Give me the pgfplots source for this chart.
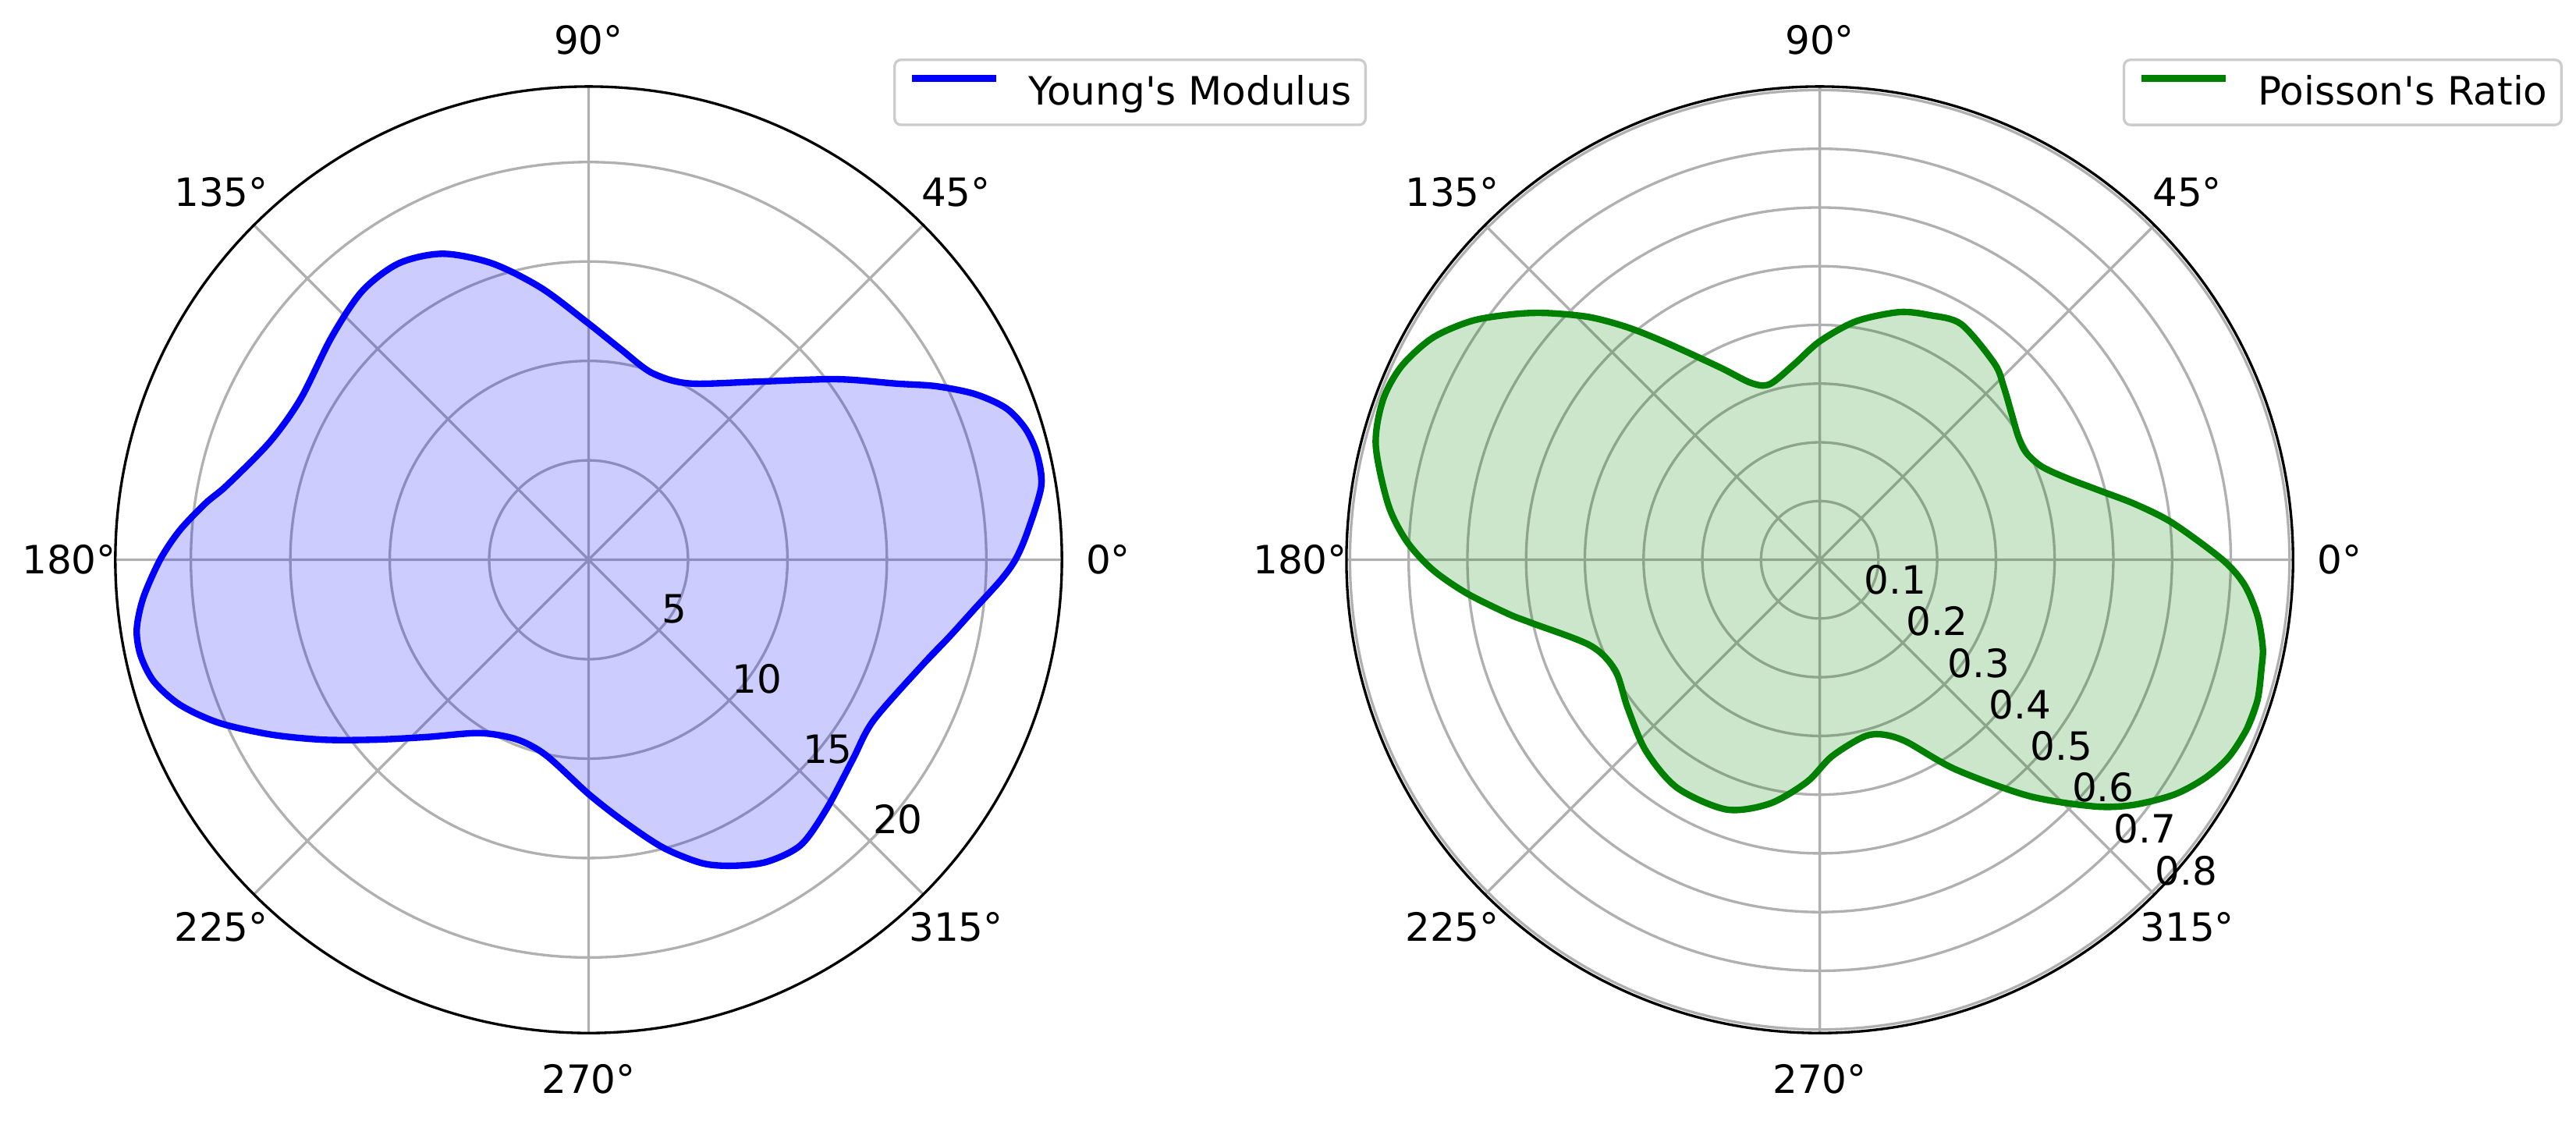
\documentclass[border=0pt]{standalone}
\usepackage{fontspec}
\setmainfont{DejaVu Sans}
\usepackage{pgfplots}
\pgfplotsset{compat=1.18}
\usepgfplotslibrary{polar}

\definecolor{gridgray}{RGB}{176,176,176}
\definecolor{legframe}{RGB}{204,204,204}
\definecolor{mplgreen}{RGB}{0,128,0}
\newcommand{\lbl}{\fontsize{12}{14.4}\selectfont}

\pgfplotsset{
  mppolar/.style={
    scale only axis, width=291.2pt, height=291.2pt,
    xmin=0, xmax=360,
    xtick={0,45,...,315}, xticklabels={},
    yticklabels={},
    xmajorgrids, ymajorgrids,
    major grid style={gridgray, line width=0.8pt},
    tick style={draw=none},
    axis line style={black, line width=0.8pt},
    y axis line style={draw=none},
    clip=false,
    legend image code/.code={\draw[##1] (0pt,4.3pt) -- (26pt,4.3pt); \path (34.9pt,4.3pt);},
    legend style={draw=legframe, line width=0.8pt, rounded corners=2pt, fill=white,
      anchor=north west, inner xsep=4.3pt, inner ysep=4.7pt,
      nodes={inner sep=0pt}, font=\lbl},
  },
}

\begin{document}
\begin{tikzpicture}
\path[use as bounding box] (0pt,0pt) rectangle (792.48pt,344.88pt);

% Young's modulus
\begin{polaraxis}[mppolar, at={(181.08pt,172.66pt)}, anchor=origin,
  ymin=0, ymax=23.8, ytick={5,10,15,20},
  legend style={at={(axis cs:58.71,29.50)}}]
\addplot[blue, line width=2pt, line join=round, fill=blue, fill opacity=0.2, smooth]
  coordinates {
  (-16.95,17.68) (-12.1,18.54) (-7.2,19.58) (-2.8,20.76)
  (0,21.46) (3.49,22.09) (9.22,23.06) (13.13,23.17) (16.6,22.95) (19.94,22.34)
  (23.22,21.14) (26.55,19.53) (29.73,17.86) (36.0,15.45) (46.6,12.33)
  (60.3,10.21) (71.2,9.92) (81.2,10.7) (90,11.88) (99.9,13.88) (108.1,15.69)
  (115.5,17.05) (122.6,17.7) (130.1,17.67) (139.1,17.1) (150.8,16.59)
  (159.7,17.09) (168.4,18.58) (171.6,19.47) (175.9,20.62) (180,21.55)
  (184.9,22.48) (188.74,22.99) (192.0,23.04) (195.6,22.71) (199.5,21.82)
  (203.78,20.33) (208.78,18.25) (214.07,16.15) (220.05,14.06) (227.57,12.08)
  (237.8,10.3) (248.1,9.73) (257.7,10.06) (270,11.78) (277.7,13.29)
  (284.5,14.95) (290.5,16.29) (295.3,17.02) (300.57,17.64) (306.66,17.88)
  (313.76,17.32) (322.96,16.65) (330.62,16.45) (343.05,17.68)
  (347.9,18.54) (352.8,19.58) (357.2,20.76)
  (360,21.46) (363.49,22.09) (369.22,23.06) (373.13,23.17)
  };
\addlegendentry{Young\textquotesingle s Modulus}
\pgfplotsinvokeforeach{0,45,...,315}{\node[font=\lbl] at (axis cs:#1,26.13) {#1°};}
\pgfplotsinvokeforeach{5,10,15,20}{\node[font=\lbl, anchor=base west, inner sep=0pt,
  xshift=0.8pt, yshift=2.2pt] at (axis cs:315,#1) {#1};}
\end{polaraxis}

% Poisson's ratio
\begin{polaraxis}[mppolar, at={(559.82pt,172.66pt)}, anchor=origin,
  ymin=0, ymax=0.806, ytick={0.1,0.2,0.3,0.4,0.5,0.6,0.7,0.8},
  legend style={at={(axis cs:58.86,0.9974)}}]
\addplot[mplgreen, line width=2pt, line join=round, fill=mplgreen, fill opacity=0.2, smooth]
  coordinates {
  (-21.5,0.7825) (-17.7,0.7828) (-13.8,0.7747) (-11.2,0.7692) (-7.35,0.7519)
  (-3.4,0.7248)
  (0,0.686) (6.04,0.603) (9.97,0.546) (13.66,0.494) (18.2,0.444) (22.8,0.41)
  (27.5,0.396) (31.8,0.398) (37.4,0.411) (43.2,0.43) (48.3,0.4475) (59,0.468)
  (65.7,0.457) (72.2,0.443) (81.3,0.411) (90,0.372) (97.4,0.336) (105.9,0.311)
  (111.2,0.323) (117.4,0.369) (125.21,0.452) (129.57,0.5135) (133.59,0.571)
  (138.14,0.63) (141.56,0.672) (145.55,0.719) (150.18,0.760) (155.2,0.785)
  (159.93,0.792) (165.5,0.781) (172.69,0.741) (177.37,0.7047) (181.43,0.66)
  (185.35,0.605) (189.81,0.539) (192.33,0.503) (200.5,0.417) (208.4,0.396)
  (217.6,0.413) (227.7,0.440) (238,0.458) (249.5,0.454) (258.4,0.424)
  (266.7,0.379) (273.4,0.336) (283.5,0.311) (289.3,0.315) (295.3,0.342)
  (302.9,0.425) (311.5,0.537) (318,0.6275) (321.9,0.677) (326.5,0.7243)
  (330.55,0.7546) (334.3,0.7735) (338.5,0.7825) (342.3,0.7828) (346.2,0.7747)
  (348.8,0.7692) (352.65,0.7519) (356.6,0.7248)
  (360,0.686) (366.04,0.603) (369.97,0.546)
  };
\addlegendentry{Poisson\textquotesingle s Ratio}
\pgfplotsinvokeforeach{0,45,...,315}{\node[font=\lbl] at (axis cs:#1,0.885) {#1°};}
\pgfplotsinvokeforeach{0.1,0.2,0.3,0.4,0.5,0.6,0.7,0.8}{\node[font=\lbl, anchor=base west,
  inner sep=0pt, xshift=0.8pt, yshift=2.2pt] at (axis cs:315,#1) {#1};}
\end{polaraxis}
\end{tikzpicture}
\end{document}
